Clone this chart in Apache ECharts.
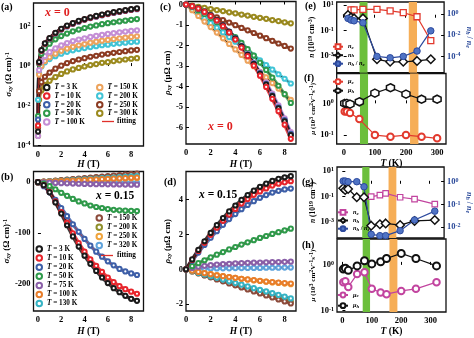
<!DOCTYPE html>
<html><head><meta charset="utf-8">
<script src="https://cdn.jsdelivr.net/npm/echarts@6/dist/echarts.min.js"></script>
<style>html,body{margin:0;padding:0;background:#fff}#c{width:474px;height:338px}</style>
</head><body><div id="c"></div>
<script>
const F = 'Liberation Serif';
// ================= DATA =================
// field grids (T)
const H_a = [0.01,0.1,0.3,0.6,1,1.5,2,2.5,3,3.5,4,4.5,5,5.5,6,6.5,7,7.5,8,8.5];
const H_b = [0,0.5,1,1.5,2,2.5,3,3.5,4,4.5,5,5.5,6,6.5,7,7.5,8,8.5];
// temperatures (K)
const T_a = [3,10,20,50,100,150,200,250,300];
const T_b = [3,10,20,50,75,100,130,150,200,250,320];
// (a) sigma_xy, x = 0 (Ohm cm)^-1
const sigA_3 = [0.0005,1.6,6.3,14,26,48,76,110,148,191,234,288,339,398,457,525,589,661,741,813];
const sigA_10 = [0.001,1.5,6.0,13.5,25,46,72,105,141,182,224,275,324,380,437,501,562,631,708,776];
const sigA_20 = [0.002,1.45,5.8,12.9,24,44,69,100,135,174,214,263,309,363,417,479,537,603,676,741];
const sigA_50 = [0.003,1.32,4.2,8.1,13.5,22.4,32.4,43.7,56.2,69.2,83.2,97.7,112,129,145,162,178,195,214,234];
const sigA_100 = [0.0003,0.63,1.74,3.16,5.0,7.8,11.0,14.5,18.2,21.9,25.1,29.5,33.1,37.2,41.7,45.7,50.1,55.0,58.9,63.1];
const sigA_150 = [0.001,0.37,1.0,1.78,2.75,4.2,5.9,7.6,9.3,11.2,12.9,15.1,17.0,19.1,20.9,22.9,25.1,26.9,29.5,31.6];
const sigA_200 = [0.02,0.43,0.95,1.55,2.24,3.16,4.2,5.2,6.2,7.2,8.1,9.1,10.0,11.2,12.0,13.2,14.1,15.1,16.2,17.0];
const sigA_250 = [0.0008,0.054,0.155,0.29,0.47,0.74,1.05,1.41,1.78,2.14,2.51,2.95,3.31,3.80,4.17,4.68,5.13,5.62,6.17,6.61];
const sigA_300 = [0.0003,0.020,0.059,0.11,0.18,0.28,0.40,0.54,0.68,0.81,0.95,1.12,1.26,1.45,1.58,1.78,1.95,2.14,2.34,2.51];
// (b) sigma_xy, x = 0.15
const sigB_3 = [0,-6,-20,-40,-62,-85,-107,-127,-145,-161,-175,-188,-199,-209,-217,-224,-230,-234];
const sigB_10 = [0,-6,-19,-38,-59,-80,-101,-120,-137,-152,-165,-177,-188,-197,-205,-211,-216,-220];
const sigB_20 = [0,-8,-20,-35,-51,-67,-83,-98,-112,-125,-137,-147,-156,-164,-171,-176,-180,-183];
const sigB_50 = [0,-3,-8,-14,-21,-27,-33,-38,-42,-46,-49,-51,-53,-54.5,-55.5,-56.2,-56.7,-57];
const sigB_75 = [0,-0.5,-1,-1.5,-2,-2.4,-2.8,-3.1,-3.4,-3.7,-3.9,-4.1,-4.3,-4.5,-4.6,-4.8,-4.9,-5];
const sigB_100 = [0,0.5,1.1,1.6,2.1,2.6,3.2,3.7,4.2,4.8,5.3,5.8,6.4,6.9,7.4,7.9,8.5,9];
const sigB_130 = [0,0.7,1.4,2.1,2.8,3.5,4.2,4.9,5.6,6.4,7.1,7.8,8.5,9.2,9.9,10.6,11.3,12];
const sigB_150 = [0,1,2,3,4,5,6,7,8,9,10,11,12,13,14,15,16,17];
const sigB_200 = [0,0.9,1.8,2.6,3.5,4.4,5.3,6.2,7.1,7.9,8.8,9.7,10.6,11.5,12.4,13.2,14.1,15];
const sigB_250 = [0,0.5,0.9,1.4,1.9,2.4,2.8,3.3,3.8,4.2,4.7,5.2,5.6,6.1,6.6,7.1,7.5,8];
const sigB_320 = [0,-0.1,-0.1,-0.2,-0.2,-0.3,-0.4,-0.4,-0.5,-0.5,-0.6,-0.6,-0.7,-0.8,-0.8,-0.9,-0.9,-1];
// (c) rho_xy, x = 0 (uOhm cm)
const rhoC_3 = [0,-0.08,-0.19,-0.35,-0.54,-0.76,-1.03,-1.33,-1.66,-2.04,-2.45,-2.90,-3.38,-3.91,-4.47,-5.06,-5.70,-6.37];
const rhoC_10 = [0,-0.08,-0.20,-0.36,-0.56,-0.78,-1.06,-1.37,-1.71,-2.10,-2.52,-2.98,-3.47,-4.02,-4.60,-5.20,-5.86,-6.55];
const rhoC_20 = [0,-0.08,-0.19,-0.35,-0.53,-0.75,-1.02,-1.32,-1.64,-2.02,-2.43,-2.87,-3.35,-3.87,-4.43,-5.01,-5.64,-6.30];
const rhoC_50 = [0,-0.13,-0.29,-0.46,-0.65,-0.86,-1.08,-1.33,-1.59,-1.87,-2.18,-2.49,-2.83,-3.19,-3.56,-3.96,-4.37,-4.80];
const rhoC_100 = [0,-0.1,-0.22,-0.38,-0.57,-0.79,-1.05,-1.34,-1.66,-2.02,-2.41,-2.84,-3.30,-3.80,-4.34,-4.92,-5.55,-6.22];
const rhoC_150 = [0,-0.28,-0.56,-0.83,-1.1,-1.37,-1.65,-1.92,-2.19,-2.46,-2.74,-3.01,-3.28,-3.55,-3.83,-4.1,-4.38,-4.65];
const rhoC_200 = [0,-0.23,-0.45,-0.68,-0.91,-1.13,-1.36,-1.59,-1.81,-2.04,-2.27,-2.49,-2.72,-2.95,-3.17,-3.40,-3.62,-3.85];
const rhoC_250 = [0,-0.13,-0.25,-0.38,-0.5,-0.63,-0.76,-0.88,-1.01,-1.14,-1.26,-1.39,-1.52,-1.64,-1.77,-1.9,-2.02,-2.15];
const rhoC_300 = [0,-0.05,-0.11,-0.16,-0.22,-0.27,-0.32,-0.38,-0.43,-0.49,-0.54,-0.60,-0.65,-0.70,-0.76,-0.81,-0.87,-0.92];
// (d) rho_xy, x = 0.15
const rhoD_3 = [0,0.57,1.11,1.61,2.09,2.53,2.94,3.32,3.66,3.98,4.26,4.51,4.73,4.91,5.07,5.19,5.28,5.34];
const rhoD_10 = [0,0.54,1.05,1.52,1.98,2.39,2.78,3.14,3.46,3.77,4.03,4.27,4.47,4.64,4.80,4.91,4.99,5.05];
const rhoD_20 = [0,0.49,0.96,1.40,1.81,2.19,2.55,2.88,3.17,3.45,3.69,3.91,4.10,4.26,4.40,4.50,4.58,4.63];
const rhoD_50 = [0,0.18,0.35,0.52,0.68,0.84,0.99,1.14,1.28,1.42,1.55,1.67,1.80,1.91,2.03,2.13,2.23,2.33];
const rhoD_75 = [0,0.08,0.15,0.2,0.24,0.27,0.3,0.32,0.34,0.36,0.37,0.38,0.39,0.40,0.41,0.42,0.43,0.44];
const rhoD_100 = [0,-0.08,-0.15,-0.22,-0.28,-0.34,-0.39,-0.44,-0.49,-0.54,-0.58,-0.62,-0.66,-0.7,-0.73,-0.76,-0.79,-0.82];
const rhoD_130 = [0,-0.1,-0.2,-0.29,-0.39,-0.49,-0.59,-0.69,-0.79,-0.88,-0.98,-1.08,-1.18,-1.27,-1.37,-1.47,-1.57,-1.67];
const rhoD_150 = [0,-0.12,-0.23,-0.35,-0.46,-0.58,-0.69,-0.81,-0.92,-1.04,-1.15,-1.27,-1.38,-1.5,-1.61,-1.73,-1.84,-1.96];
const rhoD_200 = [0,-0.11,-0.22,-0.33,-0.44,-0.54,-0.65,-0.76,-0.87,-0.98,-1.09,-1.2,-1.31,-1.42,-1.53,-1.63,-1.74,-1.85];
const rhoD_250 = [0,-0.07,-0.14,-0.21,-0.27,-0.33,-0.39,-0.44,-0.49,-0.54,-0.59,-0.63,-0.67,-0.71,-0.75,-0.78,-0.82,-0.85];
const rhoD_320 = [0,0.02,0.03,0.04,0.05,0.05,0.06,0.06,0.07,0.07,0.08,0.08,0.08,0.09,0.09,0.09,0.1,0.1];
// (e) carrier densities x = 0 (10^19 cm^-3) and ratio
const T_e = [14,24,34,63,109,152,195,240,285];
const ne_e = [null,4.1,4.1,4.6,4.6,3.5,2.5,1.2,0.016];
const nh_e = [1.66,1.07,0.89,0.89,5.5e-4,3.5e-4,3.5e-4,4.1e-4,5.5e-4];
const ratio_e = [0.39,0.27,0.23,0.15,1.0e-4,7.4e-5,1.0e-4,3.2e-4,0.026];
// (f) mobilities x = 0 (10^3 cm^2/Vs)
const T_f = [3,10,20,50,100,150,200,250,300];
const mue_f = [0.55,0.55,0.50,0.32,0.10,0.089,0.10,0.089,0.079];
const muh_f = [1.0,1.0,0.95,1.12,2.1,3.1,1.95,1.35,1.35];
// (g) carrier densities x = 0.15
const T_g = [3,10,20,50,75,100,130,150,200,250,320];
const ne_g = [null,null,null,null,null,0.10,0.13,0.18,0.089,0.063,0.026];
const nh_g = [0.45,0.33,0.39,0.089,0.089,5.4e-4,6.9e-4,8.1e-4,6.0e-4,1.26e-3,1.48e-3];
const ratio_g = [1.07,1.07,1.0,1.0,0.6,0.0049,0.0043,0.0043,0.0071,0.021,0.051];
// (h) mobilities x = 0.15
const muh_h = [0.81,0.85,0.76,0.95,1.23,1.05,1.17,1.38,1.78,1.38,0.95];
const mue_h = [0.42,0.44,0.33,0.63,0.69,0.30,0.25,0.23,0.27,0.30,0.42];
// shaded transition bands (K)
const bandsEF = [[52,78],[213,240]];
const bandsGH = [[69,94],[160,187]];
// tick values
const ticksH = [0,2,4,6,8];
const ticksT = [0,100,200,300];
// ================= STYLE =================
const colA = {3:'#1a1a1a',10:'#e8242b',20:'#3d5fa8',50:'#2e9a4a',100:'#c58fd6',150:'#eda35c',200:'#41c4d6',250:'#8c3b22',300:'#9b8a1e'};
const colB = {3:'#1a1a1a',10:'#e8242b',20:'#3d5fa8',50:'#2e9a4a',75:'#8a5fa8',100:'#e87d2a',130:'#35b3c4',150:'#8c4a3a',200:'#8f8f2a',250:'#f0a43c',320:'#5fa3dc'};
const setA = {3:sigA_3,10:sigA_10,20:sigA_20,50:sigA_50,100:sigA_100,150:sigA_150,200:sigA_200,250:sigA_250,300:sigA_300};
const setB = {3:sigB_3,10:sigB_10,20:sigB_20,50:sigB_50,75:sigB_75,100:sigB_100,130:sigB_130,150:sigB_150,200:sigB_200,250:sigB_250,320:sigB_320};
const setC = {3:rhoC_3,10:rhoC_10,20:rhoC_20,50:rhoC_50,100:rhoC_100,150:rhoC_150,200:rhoC_200,250:rhoC_250,300:rhoC_300};
const setD = {3:rhoD_3,10:rhoD_10,20:rhoD_20,50:rhoD_50,75:rhoD_75,100:rhoD_100,130:rhoD_130,150:rhoD_150,200:rhoD_200,250:rhoD_250,320:rhoD_320};

const lg = v => (v == null ? null : Math.log10(v));
const bold = {fontFamily:F, fontWeight:'bold', color:'#000'};
const supR = {sup:{fontFamily:F,fontWeight:'bold',fontSize:6,verticalAlign:'top',lineHeight:8,padding:[0,0,4,0]}};

const grids = [
  {left:33.5, top:3, width:110, height:143},
  {left:33.5, top:171.5, width:110, height:140.5},
  {left:186, top:1, width:110, height:143},
  {left:186, top:171.5, width:110, height:140},
  {left:336.7, top:2, width:109.3, height:70.7},
  {left:336.7, top:73.5, width:109.3, height:70.5},
  {left:337, top:167, width:109, height:71},
  {left:337, top:239, width:109, height:73.3}
].map(g => Object.assign(g, {show:true, borderColor:'#111', borderWidth:1.3, backgroundColor:'transparent'}));

function xAx(gi, min, max, cv, showLab, name, gap) {
  return {type:'value', gridIndex:gi, min, max,
    axisLine:{show:false}, splitLine:{show:false},
    axisTick:{show:true, inside:true, length:3, customValues:cv, lineStyle:{color:'#000',width:1}},
    axisLabel:{show:showLab, customValues:cv, margin:4, fontSize:8.5, ...bold},
    name: name || '', nameLocation:'middle', nameGap: gap || 0,
    nameTextStyle:{fontSize:9.5, ...bold, rich:{i:{fontStyle:'italic',fontSize:9.5,...bold}}}};
}
const expFmt = v => '10{sup|' + Math.round(v) + '}';
function yAx(gi, min, max, cv, isLog, name, gap, opts) {
  opts = opts || {};
  const col = opts.color || '#000';
  return {type:'value', gridIndex:gi, min, max, position: opts.right ? 'right' : 'left',
    axisLine:{show:false}, splitLine:{show:false},
    axisTick:{show:true, inside:true, length:3, customValues:cv, lineStyle:{color:'#000',width:1}},
    axisLabel:{customValues:cv, margin:3, fontSize:8.5, ...bold, color:col,
      formatter: isLog ? expFmt : (v => String(v)), rich: supR},
    name: name, nameLocation:'middle', nameGap: gap, nameRotate: opts.right ? -90 : 90,
    nameTextStyle:{fontSize: opts.nfs || 9, ...bold, color:col,
      rich:{i:{fontStyle:'italic',fontSize:opts.nfs||9,...bold,color:col},
            sub:{fontSize:6,...bold,fontStyle:'italic',color:col,verticalAlign:'bottom',padding:[3,0,0,0]},
            sup:{fontSize:6,...bold,color:col,verticalAlign:'top',padding:[0,0,3,0]}}}};
}

const xAxis = [
  xAx(0, -0.38, 9.06, ticksH, true, '{i|H} (T)', 13),
  xAx(1, -0.38, 9.06, ticksH, true, '{i|H} (T)', 16),
  xAx(2, 0, 8.92, ticksH, true, '{i|H} (T)', 16),
  xAx(3, 0, 8.92, ticksH, true, '{i|H} (T)', 16),
  xAx(4, -22.8, 328.6, ticksT, false),
  xAx(5, -22.8, 328.6, ticksT, true, '{i|T} (K)', 15),
  xAx(6, -18.4, 352.3, ticksT, false),
  xAx(7, -18.4, 352.3, ticksT, true, '{i|T} (K)', 15)
];
const nameN = '{i|n} (10{sup|19} cm{sup|-3})';
const nameMu = '{i|μ} (10{sup|3} cm{sup|2}V{sup|-1}s{sup|-1})';
const nameR = '{i|n}{sub|h} / {i|n}{sub|e}';
const yAxis = [
  yAx(0, -4.03, 3.18, [-4,-2,0,2], true, '{i|σ}{sub|xy} (Ω cm){sup|-1}', 18),
  yAx(1, -254, 21, [-200,-100,0], false, '{i|σ}{sub|xy} (Ω cm){sup|-1}', 18),
  yAx(2, -6.8, 0.146, [-6,-5,-4,-3,-2,-1,0], false, '{i|ρ}{sub|xy} (μΩ cm)', 13),
  yAx(3, -2.39, 5.61, [-2,0,2,4], false, '{i|ρ}{sub|xy} (μΩ cm)', 13),
  yAx(4, -4.31, 1.235, [-3,-1,1], true, nameN, 16, {nfs:7.5}),
  yAx(4, -5.54, 1.14, [-4,-2,0], true, nameR, 16, {right:true, color:'#2b4a9a', nfs:8}),
  yAx(5, -1.28, 0.94, [-1,0], true, nameMu, 16, {nfs:7}),
  yAx(6, -4.23, 1.31, [-3,-1,1], true, nameN, 16, {nfs:7.5}),
  yAx(6, -2.47, 0.645, [-2,-1,0], true, nameR, 16, {right:true, color:'#2b4a9a', nfs:8}),
  yAx(7, -1.028, 0.565, [-1,0], true, nameMu, 16, {nfs:7})
];

const series = [];
function hallCurves(prefix, temps, set, cols, xs, axis, fitCol, isLog) {
  temps.forEach(T => {
    const ys = set[T];
    const data = xs.map((x,i) => [x, isLog ? lg(ys[i]) : ys[i]]);
    // measured data: dense band of hollow circles
    series.push({name: prefix + '_' + T, type:'line', xAxisIndex:axis, yAxisIndex:axis, data,
      smooth:0.2, symbol:'emptyCircle', symbolSize:4.2, showSymbol:true,
      itemStyle:{color:cols[T], borderWidth:1.1}, lineStyle:{color:cols[T], width:3.4, opacity:0.85},
      animation:false, z:3});
    // fitting line
    series.push({name: prefix + 'fit_' + T, type:'line', xAxisIndex:axis, yAxisIndex:axis, data,
      smooth:0.2, symbol:'none', lineStyle:{color:fitCol, width:0.9}, animation:false, z:3, silent:true});
  });
}
hallCurves('a', [300,250,200,150,100,50,20,10,3], setA, colA, H_a, 0, '#b8262a', true);
hallCurves('b', [320,250,200,150,130,100,75,50,20,10,3], setB, colB, H_b, 1, '#b8262a', false);
hallCurves('c', [300,250,200,150,50,100,20,3,10], setC, colA, H_b, 2, '#222', false);
hallCurves('d', [320,250,200,150,130,100,75,50,20,10,3], setD, colB, H_b, 3, '#7a1f1f', false);

function bandSeries(xi, yi, bands) {
  series.push({type:'line', xAxisIndex:xi, yAxisIndex:yi, data:[], silent:true, z:1, animation:false,
    markArea:{silent:true, animation:false, label:{show:false},
      data:[[{xAxis:bands[0][0], itemStyle:{color:'#6cbf3c',opacity:1}},{xAxis:bands[0][1]}],
            [{xAxis:bands[1][0], itemStyle:{color:'#f6ae57',opacity:1}},{xAxis:bands[1][1]}]]}});
}
bandSeries(4, 4, bandsEF);
bandSeries(5, 6, bandsEF);
bandSeries(6, 7, bandsGH);
bandSeries(7, 9, bandsGH);

const hex = 'path://M5,0L10,2.9L10,8.7L5,11.6L0,8.7L0,2.9Z';
function pts(name, xs, ys, xi, yi, sym, size, col, fill, bw) {
  series.push({name, type:'line', xAxisIndex:xi, yAxisIndex:yi,
    data: xs.map((x,i) => [x, lg(ys[i])]), symbol:sym, symbolSize:size, showSymbol:true,
    itemStyle:{color:fill, borderColor:col, borderWidth:bw}, lineStyle:{color:col, width:1.2},
    animation:false, z:4});
}
pts('ne_e', T_e, ne_e, 4, 4, 'rect', 6, '#e23a2e', '#fff', 1.3);
pts('nh_e', T_e, nh_e, 4, 4, 'diamond', 8.5, '#111', '#fff', 1.5);
pts('r_e', T_e, ratio_e, 4, 5, 'circle', 6.5, '#2d4a9e', '#4f73c4', 1);
pts('mue_f', T_f, mue_f, 5, 6, 'emptyCircle', 6.5, '#e23a2e', '#e23a2e', 1.4);
pts('muh_f', T_f, muh_f, 5, 6, hex, 8, '#111', '#fff', 1.5);
pts('ne_g', T_g, ne_g, 6, 7, 'rect', 5.5, '#c2449f', '#fff', 1.2);
pts('nh_g', T_g, nh_g, 6, 7, 'diamond', 8.5, '#111', '#fff', 1.5);
pts('r_g', T_g, ratio_g, 6, 8, 'circle', 6.5, '#2d4a9e', '#4f73c4', 1);
pts('mue_h', T_g, mue_h, 7, 9, 'emptyCircle', 6.5, '#c2449f', '#c2449f', 1.4);
pts('muh_h', T_g, muh_h, 7, 9, 'emptyCircle', 7, '#111', '#111', 1.5);

// ================= LEGENDS =================
const legTxt = {fontSize:7.2, lineHeight:8, ...bold, rich:{i:{fontStyle:'italic',fontSize:7.2,lineHeight:8,...bold}}};
const tFmt = n => '{i|T} = ' + n.split('_')[1] + ' K';
function tLegend(names, left, top, gap) {
  return {data:names, orient:'vertical', left, top, itemGap:gap, itemWidth:5.5, itemHeight:5.5,
    icon:'emptyCircle', padding:0, selectedMode:false, formatter:tFmt, textStyle:legTxt};
}
const subTxt = {fontSize:6.3, lineHeight:7, ...bold,
  rich:{i:{fontStyle:'italic',fontSize:6.3,lineHeight:7,...bold}, sub:{fontStyle:'italic',fontSize:4.8,lineHeight:7,...bold,verticalAlign:'bottom'}}};
const labMap = {ne_e:'{i|n}{sub|e}', nh_e:'{i|n}{sub|h}', r_e:'{i|n}{sub|h} / {i|n}{sub|e}',
  mue_f:'{i|μ}{sub|e}', muh_f:'{i|μ}{sub|h}', ne_g:'{i|n}{sub|e}', nh_g:'{i|n}{sub|h}', r_g:'{i|n}{sub|h} / {i|n}{sub|e}',
  mue_h:'{i|μ}{sub|e}', muh_h:'{i|μ}{sub|h}'};
function pLegend(names, left, top, gap) {
  return {data:names, orient:'vertical', left, top, itemGap:gap, itemWidth:10, itemHeight:6,
    padding:0, selectedMode:false, formatter: n => labMap[n], textStyle:subTxt};
}
const legend = [
  tLegend(['a_3','a_10','a_20','a_50','a_100'], 43, 83.5, 0.6),
  tLegend(['a_150','a_200','a_250','a_300'], 96, 83.5, 0.6),
  tLegend(['b_3','b_10','b_20','b_50','b_75','b_100','b_130'], 35.5, 245, 1.1),
  tLegend(['b_150','b_200','b_250','b_320'], 95.5, 214, 1.2),
  pLegend(['ne_e','nh_e','r_e'], 332, 43.2, 1.5),
  pLegend(['mue_f','muh_f'], 332, 78.2, 2),
  pLegend(['ne_g','nh_g','r_g'], 337, 208.8, 1.2),
  pLegend(['mue_h','muh_h'], 337, 291.5, 3.7)
];

// ================= TEXT =================
const lab = (t, x, y, fs) => ({type:'text', x, y, style:{text:t, font:'bold '+(fs||10)+'px "'+F+'"', fill:'#000', verticalAlign:'middle'}, z:10});
const xlab = (t, x, y, col, fs) => ({type:'text', x, y, z:10, style:{text:t, fill:col, font:'bold '+fs+'px "'+F+'"', verticalAlign:'middle',
  rich:{i:{fontStyle:'italic', fontWeight:'bold', fontFamily:F, fontSize:fs, fill:col}}}});
const graphic = [
  lab('(a)', 1, 7), lab('(b)', 1, 177), lab('(c)', 160, 7), lab('(d)', 164, 182),
  lab('(e)', 305, 6), lab('(f)', 304, 78), lab('(g)', 302, 182), lab('(h)', 302, 245),
  xlab('{i|x} = 0', 45, 13, '#e02020', 12), xlab('{i|x} = 0', 208, 127, '#e02020', 12),
  xlab('{i|x} = 0.15', 96, 196, '#000', 11.5), xlab('{i|x} = 0.15', 199, 195, '#000', 11.5),
  {type:'line', shape:{x1:102, y1:121.5, x2:114, y2:121.5}, style:{stroke:'#e0302a', lineWidth:1.3}, z:10},
  lab('fitting', 117, 121.5, 7.2),
  {type:'line', shape:{x1:101, y1:255.5, x2:113, y2:255.5}, style:{stroke:'#e0302a', lineWidth:1.3}, z:10},
  lab('fitting', 117, 255.5, 7.2)
];

const chart = echarts.init(document.getElementById('c'), null, {renderer:'canvas', width:474, height:338});
chart.setOption({animation:false, backgroundColor:'#fff', grid:grids, xAxis, yAxis, series, legend, graphic});
</script></body></html>
